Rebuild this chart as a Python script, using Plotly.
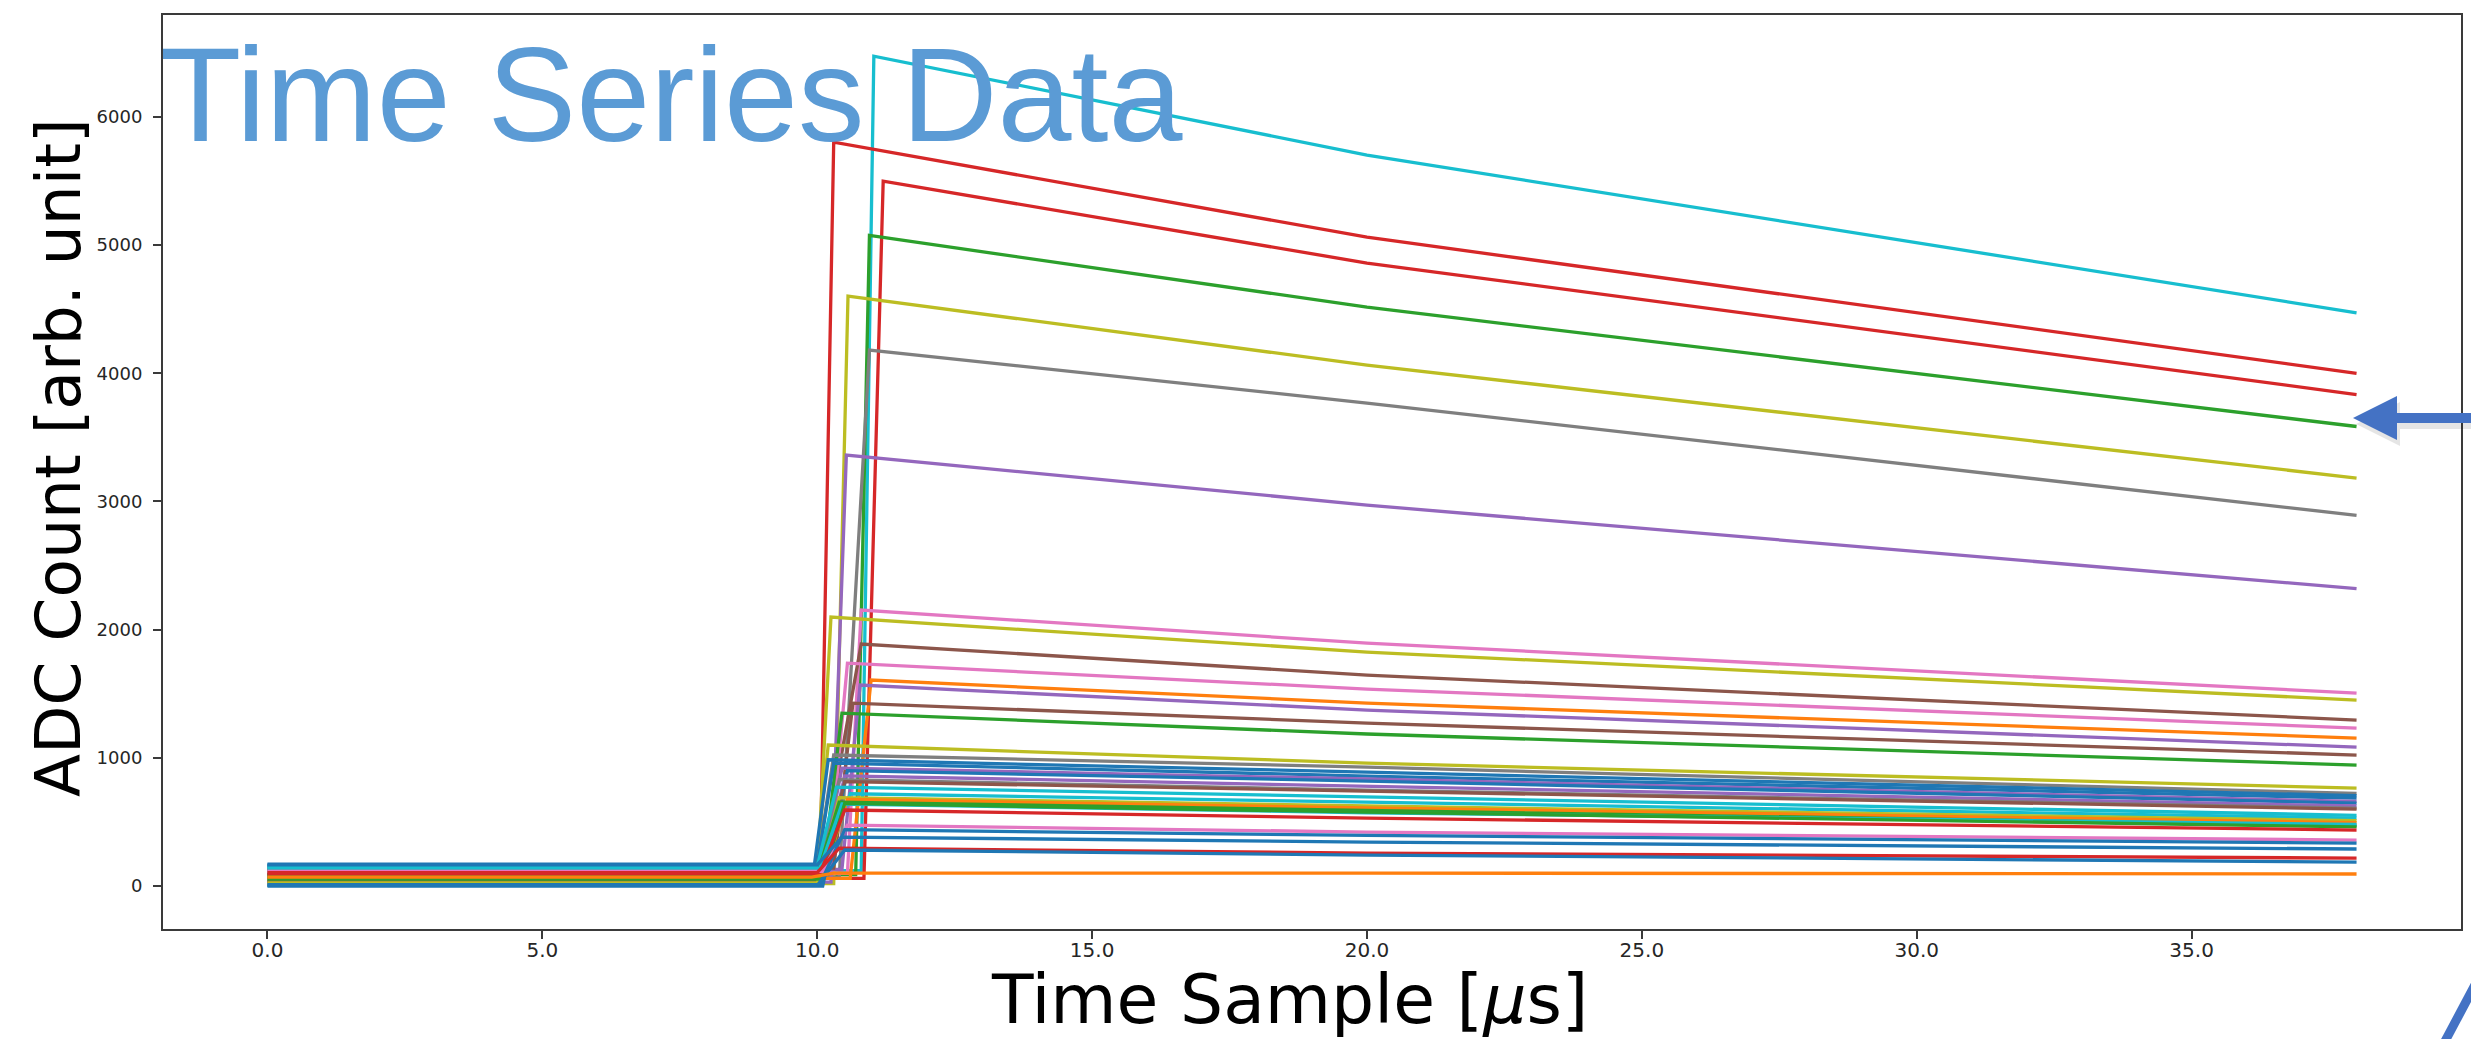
import plotly.graph_objects as go

# ---------------- data ----------------
# one entry per waveform
colors = [
    "#17becf", "#d62728", "#d62728", "#2ca02c", "#bcbd22", "#7f7f7f", "#9467bd",
    "#e377c2", "#bcbd22", "#8c564b", "#e377c2", "#ff7f0e", "#9467bd", "#8c564b", "#2ca02c",
    "#bcbd22", "#7f7f7f", "#1f77b4", "#1f77b4", "#9467bd", "#1f77b4", "#9467bd", "#7f7f7f",
    "#8c564b", "#17becf", "#17becf", "#bcbd22", "#ff7f0e", "#2ca02c", "#17becf", "#2ca02c",
    "#d62728", "#e377c2", "#1f77b4", "#1f77b4", "#d62728", "#1f77b4", "#ff7f0e",
]
baseline = [120, 40, 60, 90, 20, 70, 30,
            100, 50, 80, 110, 60, 130, 140, 90,
            10, 150, 170, 160, 45, 0, 75, 120,
            35, 150, 100, 25, 65, 85, 140, 55,
            95, 115, 10, 165, 105, 5, 70]
rise_start = [10.80, 10.05, 10.85, 10.70, 10.30, 10.40, 10.25,
              10.55, 10.00, 10.05, 10.20, 10.60, 10.45, 10.30, 10.10,
              9.95, 10.00, 9.95, 10.00, 10.05, 10.10, 10.10, 10.00,
              10.05, 10.00, 10.10, 10.00, 10.10, 10.00, 10.05, 10.10,
              10.05, 10.10, 10.05, 10.00, 10.00, 10.00, 9.90]
peak_time = [11.03, 10.30, 11.20, 10.95, 10.56, 10.95, 10.53,
             10.80, 10.25, 10.80, 10.55, 10.98, 10.78, 10.65, 10.45,
             10.20, 10.30, 10.20, 10.30, 10.45, 10.55, 10.50, 10.40,
             10.50, 10.35, 10.60, 10.40, 10.55, 10.40, 10.45, 10.50,
             10.50, 10.55, 10.50, 10.45, 10.40, 10.50, 10.30]
peak = [6474, 5803, 5499, 5075, 4602, 4181, 3362,
        2153, 2098, 1888, 1739, 1607, 1568, 1427, 1349,
        1100, 1022, 985, 959, 920, 900, 860, 830,
        815, 772, 720, 690, 675, 655, 640, 645,
        593, 476, 440, 382, 296, 281, 101]
value_t20 = [5702, 5062, 4860, 4516, 4064, 3768, 2972,
             1895, 1825, 1646, 1537, 1427, 1373, 1271, 1186,
             959, 928, 889, 858, 835, 819, 780, 749,
             740, 694, 655, 625, 610, 590, 572, 577,
             530, 421, 395, 343, 257, 242, 101]
value_t38 = [4472, 4000, 3834, 3585, 3183, 2892, 2320,
             1505, 1451, 1295, 1232, 1154, 1084, 1022, 944,
             764, 722, 705, 686, 660, 647, 625, 608,
             600, 552, 530, 510, 495, 470, 480, 462,
             437, 359, 335, 289, 218, 187, 94]
t_first, t_mid, t_last = 0.0, 20.0, 38.0

x_ticks = [0, 5, 10, 15, 20, 25, 30, 35]
x_tick_text = ["0.0", "5.0", "10.0", "15.0", "20.0", "25.0", "30.0", "35.0"]
y_ticks = [0, 1000, 2000, 3000, 4000, 5000, 6000]

# ---------------- figure ----------------
OFF = 8                       # page body margin of the written html
W, H = 2479 - OFF, 1039 - OFF
ML, MR, MT, MB = 163 - OFF, 18, 15 - OFF, 110
PW, PH = W - ML - MR, H - MT - MB


def px(x):
    """screen x (reference pixels) -> paper coordinate"""
    return (x - OFF - ML) / PW


def py(y):
    """screen y (reference pixels) -> paper coordinate"""
    return (H - MB - (y - OFF)) / PH


fig = go.Figure()
for i, c in enumerate(colors):
    fig.add_trace(go.Scatter(
        x=[t_first, rise_start[i], peak_time[i], t_mid, t_last],
        y=[baseline[i], baseline[i], peak[i], value_t20[i], value_t38[i]],
        mode="lines",
        line=dict(color=c, width=3.3),
        showlegend=False,
        hoverinfo="skip",
    ))

axis_common = dict(
    showline=True, mirror=True, linecolor="#3a3a3a", linewidth=2,
    ticks="outside", ticklen=8, tickwidth=1.5, tickcolor="#3a3a3a",
    showgrid=False, zeroline=False,
)

fig.update_layout(
    width=W, height=H,
    margin=dict(l=ML, r=MR, t=MT, b=MB, autoexpand=False),
    paper_bgcolor="white", plot_bgcolor="white",
    showlegend=False,
    xaxis=dict(range=[-1.9, 39.9], tickvals=x_ticks, ticktext=x_tick_text,
               tickfont=dict(family="DejaVu Sans", size=20, color="#262626"),
               ticklabelstandoff=-6,
               **axis_common),
    yaxis=dict(range=[-335, 6795], tickvals=y_ticks, tickformat="d",
               tickfont=dict(family="DejaVu Sans", size=18, color="#262626"),
               ticklabelstandoff=7,
               **axis_common),
)

# text
fig.add_annotation(text="Time Series Data", xref="paper", yref="paper",
                   x=px(158), y=py(19), xanchor="left", yanchor="top",
                   showarrow=False,
                   font=dict(family="Liberation Sans, Arial", size=133, color="#5B9BD5"))
fig.add_annotation(text="Time Sample [<i>μ</i>s]", xref="paper", yref="paper",
                   x=px(1289), y=py(958), xanchor="center", yanchor="top",
                   showarrow=False,
                   font=dict(family="DejaVu Sans", size=68, color="black"))
fig.add_annotation(text="ADC Count [arb. unit]", xref="paper", yref="paper",
                   x=px(58), y=py(458), xanchor="center", yanchor="middle",
                   textangle=-90, showarrow=False,
                   font=dict(family="DejaVu Sans", size=63, color="black"))

# blue arrow on the right (slide decoration)
arrow_pts = [(2353, 418), (2397, 396), (2397, 413), (2490, 413),
             (2490, 423), (2397, 423), (2397, 440)]


def path_of(pts, dx=0, dy=0):
    return "M " + " L ".join(f"{px(a + dx):.5f},{py(b + dy):.5f}" for a, b in pts) + " Z"


fig.add_shape(type="path", xref="paper", yref="paper", path=path_of(arrow_pts, 3, 6),
              fillcolor="rgba(0,0,0,0.10)", line=dict(width=0))
fig.add_shape(type="path", xref="paper", yref="paper", path=path_of(arrow_pts),
              fillcolor="#4472C4", line=dict(width=0))
# partial blue stroke at bottom-right corner
fig.add_shape(type="line", xref="paper", yref="paper",
              x0=px(2484), y0=py(968), x1=px(2443), y1=py(1045),
              line=dict(color="#4472C4", width=9))

fig.write_html("out.html")
